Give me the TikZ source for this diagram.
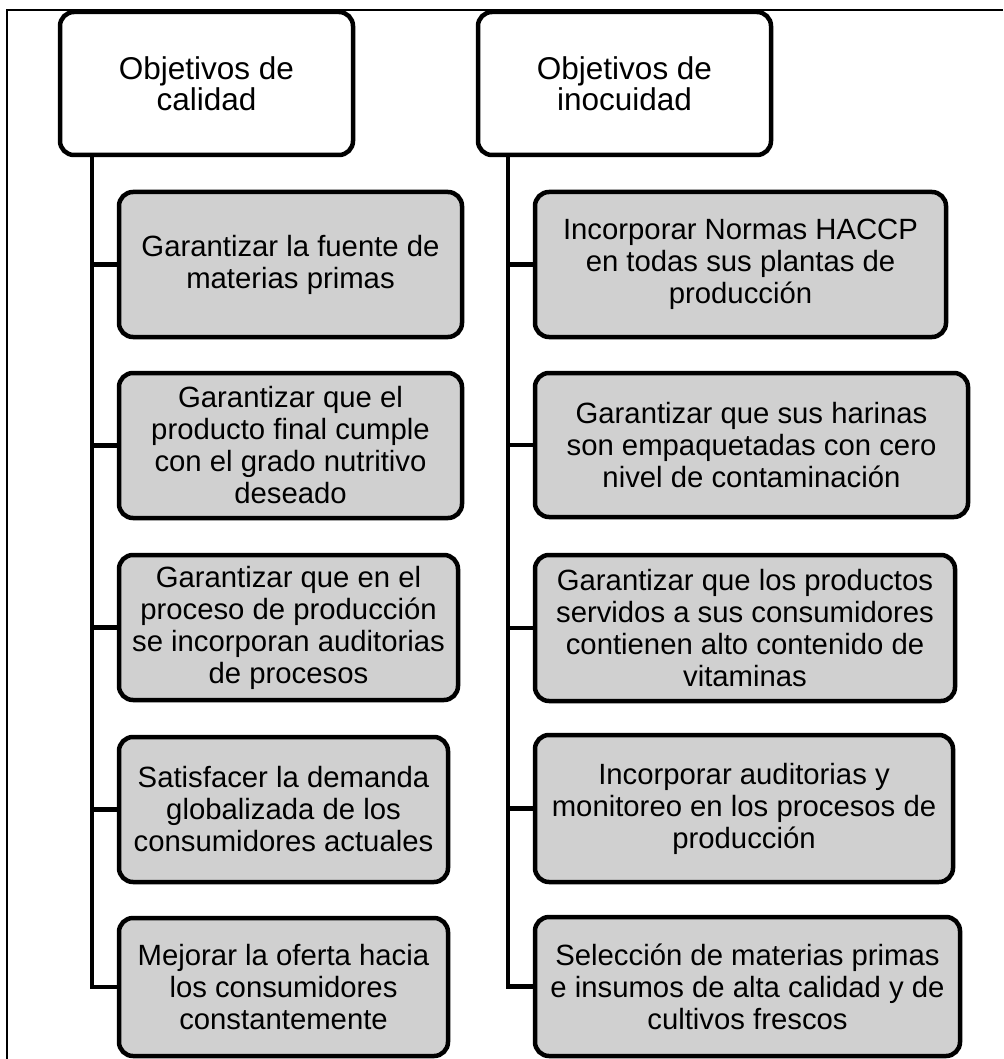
\documentclass[tikz,border=0pt]{standalone}
\usepackage{fontspec}
\setmainfont{Liberation Sans}
\definecolor{boxgray}{RGB}{208,208,208}
\tikzset{
  header/.style = {draw, line width=4.5pt, rounded corners=14pt, fill=white,
    inner sep=0pt, align=center, minimum height=143pt, minimum width=293pt,
    font=\fontsize{31.5}{31}\selectfont},
  item/.style = {draw, line width=4.5pt, rounded corners=14pt, fill=boxgray,
    inner sep=0pt, align=center, font=\fontsize{29.3}{32}\selectfont},
  link/.style = {line width=4.5pt},
  frame/.style = {line width=1.3pt}
}

\begin{document}
\begin{tikzpicture}[x=1pt,y=-1pt]
  \useasboundingbox (0,0) rectangle (1003,1059);
  \draw[frame] (7,1059) -- (7,10) -- (1003,10);
  % spines
  \coordinate (spineC) at (92,0);
  \coordinate (spineI) at (508,0);
  % headers
  \node[header] (calidad) at (206.5,83.5) {Objetivos de\\calidad};
  \node[header] (inocuidad) at (624.5,83.5) {Objetivos de\\inocuidad};
  % quality column
  \node[item,minimum width=343pt,minimum height=145pt] (c1) at (290.5,264.5)
    {Garantizar la fuente de\\materias primas};
  \node[item,minimum width=343pt,minimum height=145pt] (c2) at (290.5,445.5)
    {Garantizar que el\\producto final cumple\\con el grado nutritivo\\deseado};
  \node[item,minimum width=339pt,minimum height=145pt] (c3) at (288.5,627.5)
    {Garantizar que en el\\proceso de producción\\se incorporan auditorias\\de procesos};
  \node[item,minimum width=329pt,minimum height=145pt] (c4) at (283.5,809.5)
    {Satisfacer la demanda\\globalizada de los\\consumidores actuales};
  \node[item,minimum width=329pt,minimum height=138pt] (c5) at (283.5,987)
    {Mejorar la oferta hacia\\los consumidores\\constantemente};
  % safety column
  \node[item,minimum width=411pt,minimum height=145pt] (i1) at (740.5,264.5)
    {Incorporar Normas HACCP\\en todas sus plantas de\\producción};
  \node[item,minimum width=433pt,minimum height=144pt] (i2) at (751.5,445)
    {Garantizar que sus harinas\\son empaquetadas con cero\\nivel de contaminación};
  \node[item,minimum width=420pt,minimum height=146pt] (i3) at (745,628)
    {Garantizar que los productos\\servidos a sus consumidores\\contienen alto contenido de\\vitaminas};
  \node[item,minimum width=418pt,minimum height=147pt] (i4) at (744,808.5)
    {Incorporar auditorias y\\monitoreo en los procesos de\\producción};
  \node[item,minimum width=425pt,minimum height=139pt] (i5) at (747.5,986.5)
    {Selección de materias primas\\e insumos de alta calidad y de\\cultivos frescos};
  % connectors
  \draw[link] (calidad.south -| spineC) |- (c5.west);
  \draw[link] (inocuidad.south -| spineI) |- (i5.west);
  \foreach \n in {c1,c2,c3,c4}
    \draw[link] (\n.west) -- (\n.west -| spineC);
  \foreach \n in {i1,i2,i3,i4}
    \draw[link] (\n.west) -- (\n.west -| spineI);
\end{tikzpicture}
\end{document}
